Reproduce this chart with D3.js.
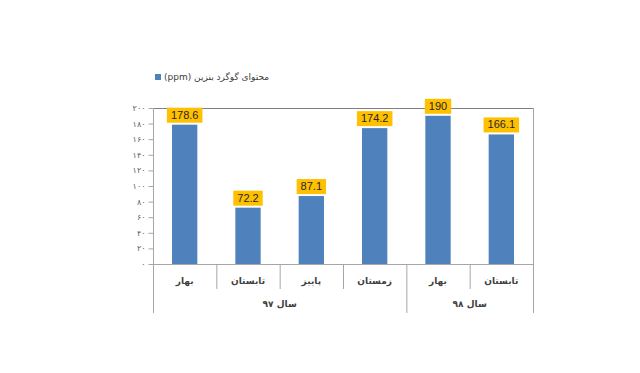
<!DOCTYPE html>
<html>
<head>
<meta charset="utf-8">
<script src="https://cdn.jsdelivr.net/npm/d3@7"></script>
<style>
  body { margin: 0; background: #fff; }
  svg { display: block; }
</style>
</head>
<body>
<svg id="chart" width="640" height="373"></svg>
<script>
// data
var categories = ["بهار", "تابستان", "پاییز", "زمستان", "بهار", "تابستان"];
var values = [178.6, 72.2, 87.1, 174.2, 190, 166.1];
var years = ["سال ۹۷", "سال ۹۸"];
var yearSpans = [4, 2];
var yTicks = [0, 20, 40, 60, 80, 100, 120, 140, 160, 180, 200];
var legendLabel = "محتوای گوگرد بنزین (ppm)";

var svg = d3.select("#chart");
// note: "top" is taken by window.top, so use plot* names
var plotL = 153, plotR = 533, plotT = 108, plotB = 264;
var catBottom = 289, yearBottom = 313;
var persianFont = "'DejaVu Sans', 'Noto Sans', sans-serif";
var axisColor = "#a6a6a6";

function fa(n) {
    return String(n).replace(/[0-9]/g, function (d) { return "۰۱۲۳۴۵۶۷۸۹"[+d]; });
}

var x = d3.scaleBand().domain(d3.range(categories.length)).range([plotL, plotR]).paddingInner(0).paddingOuter(0);
var y = d3.scaleLinear().domain([0, 200]).range([plotB, plotT]);
var barW = x.bandwidth() * 0.4;

// plot frame
svg.append("line").attr("x1", plotL).attr("x2", plotR).attr("y1", plotT + 0.5).attr("y2", plotT + 0.5)
    .attr("stroke", "#808080").attr("stroke-width", 1);
svg.append("line").attr("x1", plotR + 0.5).attr("x2", plotR + 0.5).attr("y1", plotT).attr("y2", yearBottom)
    .attr("stroke", axisColor);
svg.append("line").attr("x1", plotL + 0.5).attr("x2", plotL + 0.5).attr("y1", plotT).attr("y2", yearBottom)
    .attr("stroke", axisColor);

// y axis
var yAxis = d3.axisLeft(y).tickValues(yTicks).tickSize(5).tickPadding(3).tickFormat(fa);
var gy = svg.append("g").attr("transform", "translate(" + (plotL + 0.5) + ",0)").call(yAxis);
gy.select(".domain").remove();
gy.selectAll(".tick line").attr("stroke", axisColor);
gy.selectAll(".tick text").style("fill", "#595959").style("font-family", persianFont).style("font-size", "8px");

// baseline
svg.append("line").attr("x1", plotL).attr("x2", plotR).attr("y1", plotB + 0.5).attr("y2", plotB + 0.5)
    .attr("stroke", axisColor);

// bars
svg.selectAll("rect.bar").data(values).enter().append("rect")
    .attr("class", "bar")
    .attr("x", function (d, i) { return x(i) + (x.bandwidth() - barW) / 2; })
    .attr("y", function (d) { return y(d); })
    .attr("width", barW)
    .attr("height", function (d) { return y(0) - y(d); })
    .attr("fill", "#4F81BD");

// value labels
var lab = svg.selectAll("g.lab").data(values).enter().append("g").attr("class", "lab");
lab.each(function (d, i) {
    var g = d3.select(this);
    var cx = x(i) + x.bandwidth() / 2;
    var t = g.append("text")
        .attr("x", cx).attr("y", y(d) - 6)
        .attr("text-anchor", "middle")
        .style("font-family", "'Liberation Sans Narrow', 'Liberation Sans', sans-serif")
        .style("font-size", "11px")
        .attr("fill", "#262626")
        .text(d);
    var w = t.node().getComputedTextLength() + 8;
    g.insert("rect", "text")
        .attr("x", cx - w / 2).attr("y", y(d) - 17)
        .attr("width", w).attr("height", 15)
        .attr("fill", "#FFC000");
});

// category dividers and labels
d3.range(1, categories.length).forEach(function (i) {
    var isYear = i === yearSpans[0];
    svg.append("line").attr("x1", x(i) + 0.5).attr("x2", x(i) + 0.5)
        .attr("y1", plotB).attr("y2", isYear ? yearBottom : catBottom)
        .attr("stroke", axisColor);
});
svg.selectAll("text.cat").data(categories).enter().append("text")
    .attr("class", "cat")
    .attr("x", function (d, i) { return x(i) + x.bandwidth() / 2; })
    .attr("y", 284)
    .attr("text-anchor", "middle")
    .style("font-family", persianFont).style("font-size", "9px").style("font-weight", "bold")
    .attr("fill", "#404040")
    .text(function (d) { return d; });

// year labels
var start = 0;
years.forEach(function (yr, j) {
    var x0 = x(start), x1 = x(start + yearSpans[j] - 1) + x.bandwidth();
    svg.append("text").attr("x", (x0 + x1) / 2).attr("y", 307)
        .attr("text-anchor", "middle")
        .style("font-family", persianFont).style("font-size", "9px").style("font-weight", "bold")
        .attr("fill", "#404040")
        .text(yr);
    start += yearSpans[j];
});

// legend
svg.append("rect").attr("x", 155).attr("y", 74).attr("width", 6).attr("height", 6).attr("fill", "#4F81BD");
svg.append("text").attr("x", 164).attr("y", 80)
    .attr("direction", "rtl").attr("text-anchor", "end")
    .style("font-family", persianFont).style("font-size", "9px")
    .attr("fill", "#404040")
    .text(legendLabel);
</script>
</body>
</html>
